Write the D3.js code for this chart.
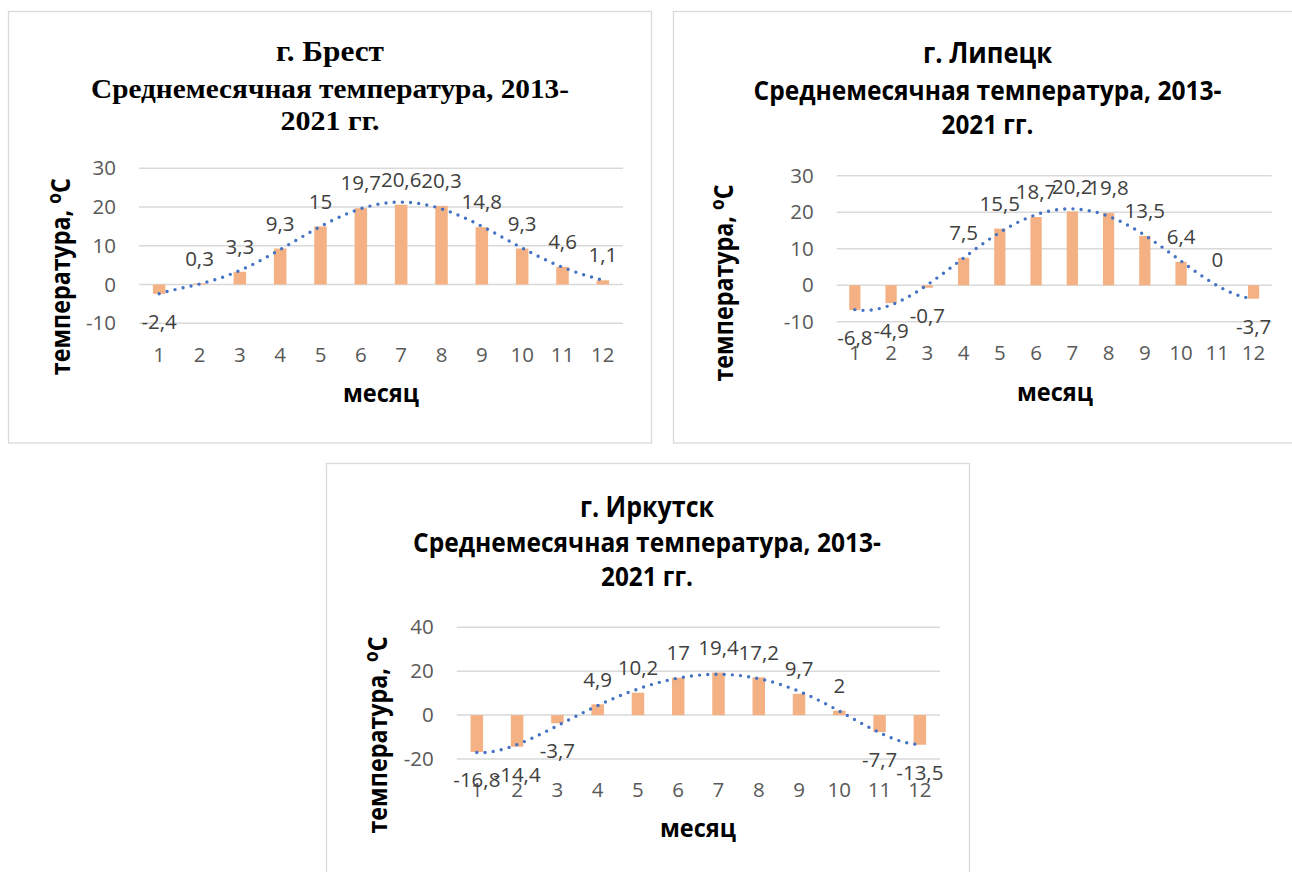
<!DOCTYPE html>
<html>
<head>
<meta charset="utf-8">
<script src="https://cdn.jsdelivr.net/npm/d3@7"></script>
<style>
  body { margin: 0; background: #fff; }
  svg { display: block; }
</style>
</head>
<body>
<svg id="chart" width="1292" height="872"></svg>
<script>
// ---- data ----
const months = [1, 2, 3, 4, 5, 6, 7, 8, 9, 10, 11, 12];
const brestTemps   = [-2.4, 0.3, 3.3, 9.3, 15, 19.7, 20.6, 20.3, 14.8, 9.3, 4.6, 1.1];
const lipetskTemps = [-6.8, -4.9, -0.7, 7.5, 15.5, 18.7, 20.2, 19.8, 13.5, 6.4, 0, -3.7];
const irkutskTemps = [-16.8, -14.4, -3.7, 4.9, 10.2, 17, 19.4, 17.2, 9.7, 2, -7.7, -13.5];
const brestTicks   = [-10, 0, 10, 20, 30];
const lipetskTicks = [-10, 0, 10, 20, 30];
const irkutskTicks = [-20, 0, 20, 40];
const cityNames = ["г. Брест", "г. Липецк", "г. Иркутск"];
const subtitleLines = ["Среднемесячная температура, 2013-", "2021 гг."];
const yTitleText = "температура, ";
const yTitleSup = "o";
const yTitleUnit = "C";
const xTitleText = "месяц";
const trendOrder = 6;

// ---- styles ----
const SANS = "'Open Sans', 'Noto Sans', sans-serif";
const SERIF = "'Liberation Serif', 'Times New Roman', serif";
const BAR_COLOR = "#F4B183";
const TREND_COLOR = "#4472C4";
const GRID_COLOR = "#d9d9d9";
const TICK_COLOR = "#595959";
const LABEL_COLOR = "#404040";
const LABEL_SIZE = 20.5;

// ---- layout of the three chart boxes ----
const panels = [
  {
    name: cityNames[0], temps: brestTemps, ticks: brestTicks, titleFont: SERIF,
    frame: { x: 8.5, y: 11.5, w: 643, h: 431.5 },
    plot: { x0: 139, x1: 623, yTop: 168.3, yBot: 323.3 },
    xLabelY: 355,
    titleX: 330, titleBase: [61, 98, 130], titleSize: [30, 28, 28], titleWidth: [108, 478, 99],
    yTitle: { x: 70, y: 276.7 }, xTitle: { x: 381, y: 401.5 }
  },
  {
    name: cityNames[1], temps: lipetskTemps, ticks: lipetskTicks, titleFont: SANS,
    frame: { x: 673.5, y: 11.5, w: 640, h: 431.5 },
    plot: { x0: 836.7, x1: 1271.7, yTop: 175.7, yBot: 321.7 },
    xLabelY: 353.3,
    titleX: 987.5, titleBase: [63, 100, 134], titleSize: [28, 26, 26], titleWidth: [129, 468, 92],
    yTitle: { x: 733, y: 283 }, xTitle: { x: 1055, y: 401 }
  },
  {
    name: cityNames[2], temps: irkutskTemps, ticks: irkutskTicks, titleFont: SANS,
    frame: { x: 326.5, y: 463.5, w: 643, h: 430 },
    plot: { x0: 456.7, x1: 940, yTop: 627.3, yBot: 759 },
    xLabelY: 790,
    titleX: 647, titleBase: [516.5, 552, 586], titleSize: [28, 26, 26], titleWidth: [134, 468, 92],
    yTitle: { x: 387, y: 735 }, xTitle: { x: 698, y: 836.5 }
  }
];

const fmt = v => String(v).replace(".", ",");

// least-squares polynomial trend (x rescaled for numerical stability)
function polyfit(xs, ys, order) {
  const mid = (xs[0] + xs[xs.length - 1]) / 2;
  const half = (xs[xs.length - 1] - xs[0]) / 2;
  const t = xs.map(x => (x - mid) / half);
  const n = order + 1;
  const M = Array.from({ length: n }, () => new Array(n + 1).fill(0));
  t.forEach((ti, k) => {
    for (let i = 0; i < n; i++) {
      for (let j = 0; j < n; j++) M[i][j] += Math.pow(ti, i + j);
      M[i][n] += Math.pow(ti, i) * ys[k];
    }
  });
  for (let c = 0; c < n; c++) {
    let p = c;
    for (let r = c + 1; r < n; r++) if (Math.abs(M[r][c]) > Math.abs(M[p][c])) p = r;
    [M[c], M[p]] = [M[p], M[c]];
    for (let r = 0; r < n; r++) {
      if (r === c) continue;
      const f = M[r][c] / M[c][c];
      for (let k = c; k <= n; k++) M[r][k] -= f * M[c][k];
    }
  }
  const coef = M.map((row, i) => row[n] / row[i]);
  return x => {
    const u = (x - mid) / half;
    return coef.reduce((s, c, i) => s + c * Math.pow(u, i), 0);
  };
}

const svg = d3.select("#chart");

panels.forEach(p => {
  const g = svg.append("g");

  // chart frame
  g.append("rect")
    .attr("x", p.frame.x).attr("y", p.frame.y)
    .attr("width", p.frame.w).attr("height", p.frame.h)
    .attr("fill", "#fff").attr("stroke", GRID_COLOR).attr("stroke-width", 1.3);

  // title (three lines)
  const titleLines = [p.name, subtitleLines[0], subtitleLines[1]];
  titleLines.forEach((line, i) => {
    g.append("text")
      .attr("x", p.titleX).attr("y", p.titleBase[i])
      .attr("text-anchor", "middle")
      .attr("font-family", p.titleFont).attr("font-weight", "bold")
      .attr("font-size", p.titleSize[i])
      .attr("textLength", p.titleWidth[i]).attr("lengthAdjust", "spacingAndGlyphs")
      .attr("fill", "#000")
      .text(line);
  });

  // scales
  const x = d3.scaleBand().domain(months)
    .range([p.plot.x0, p.plot.x1]).paddingInner(0.69).paddingOuter(0.345);
  const y = d3.scaleLinear().domain(d3.extent(p.ticks)).range([p.plot.yBot, p.plot.yTop]);
  const cx = m => x(m) + x.bandwidth() / 2;

  // gridlines
  g.append("g").selectAll("line").data(p.ticks).join("line")
    .attr("x1", p.plot.x0).attr("x2", p.plot.x1)
    .attr("y1", d => y(d)).attr("y2", d => y(d))
    .attr("stroke", GRID_COLOR).attr("stroke-width", 1.5);

  // value axis labels
  const yAxis = d3.axisLeft(y).tickValues(p.ticks).tickSize(0).tickPadding(23).tickFormat(fmt);
  const ya = g.append("g").attr("transform", `translate(${p.plot.x0},0)`).call(yAxis);
  ya.select(".domain").remove();
  ya.selectAll("text").attr("font-family", SANS).attr("font-size", LABEL_SIZE).attr("fill", TICK_COLOR);

  // category labels along the bottom
  g.append("g").selectAll("text").data(months).join("text")
    .attr("x", d => cx(d)).attr("y", p.xLabelY).attr("dy", "0.35em")
    .attr("text-anchor", "middle")
    .attr("font-family", SANS).attr("font-size", LABEL_SIZE).attr("fill", TICK_COLOR)
    .text(d => d);

  // bars
  const pts = months.map((m, i) => ({ m, v: p.temps[i] }));
  g.append("g").selectAll("rect").data(pts).join("rect")
    .attr("x", d => x(d.m)).attr("width", x.bandwidth())
    .attr("y", d => Math.min(y(d.v), y(0)))
    .attr("height", d => Math.abs(y(d.v) - y(0)))
    .attr("fill", BAR_COLOR);

  // polynomial trendline, dotted
  const trend = polyfit(months, p.temps, trendOrder);
  const xs = d3.range(months[0], months[months.length - 1] + 0.001, 0.05);
  const xLin = d3.scaleLinear().domain([months[0], months[months.length - 1]])
    .range([cx(months[0]), cx(months[months.length - 1])]);
  const line = d3.line().x(d => xLin(d)).y(d => y(trend(d))).curve(d3.curveLinear);
  g.append("path").datum(xs)
    .attr("d", line).attr("fill", "none")
    .attr("stroke", TREND_COLOR).attr("stroke-width", 3.4)
    .attr("stroke-linecap", "round").attr("stroke-dasharray", "0 8.2");

  // data labels at the outer end of each bar
  g.append("g").selectAll("text").data(pts).join("text")
    .attr("x", d => cx(d.m))
    .attr("y", d => d.v >= 0 ? y(d.v) - 25 : y(d.v) + 28)
    .attr("dy", "0.35em").attr("text-anchor", "middle")
    .attr("font-family", SANS).attr("font-size", LABEL_SIZE).attr("fill", LABEL_COLOR)
    .text(d => fmt(d.v));

  // axis titles
  const yt = g.append("text")
    .attr("transform", `translate(${p.yTitle.x},${p.yTitle.y}) rotate(-90)`)
    .attr("text-anchor", "middle")
    .attr("font-family", SANS).attr("font-weight", "bold").attr("font-size", 27)
    .attr("textLength", 197).attr("lengthAdjust", "spacingAndGlyphs")
    .attr("fill", "#000");
  yt.append("tspan").text(yTitleText);
  yt.append("tspan").attr("font-size", 20).attr("dy", -9).text(yTitleSup);
  yt.append("tspan").attr("dy", 9).text(yTitleUnit);

  g.append("text")
    .attr("x", p.xTitle.x).attr("y", p.xTitle.y)
    .attr("text-anchor", "middle")
    .attr("font-family", SANS).attr("font-weight", "bold").attr("font-size", 25)
    .attr("textLength", 76).attr("lengthAdjust", "spacingAndGlyphs")
    .attr("fill", "#000")
    .text(xTitleText);
});
</script>
</body>
</html>
